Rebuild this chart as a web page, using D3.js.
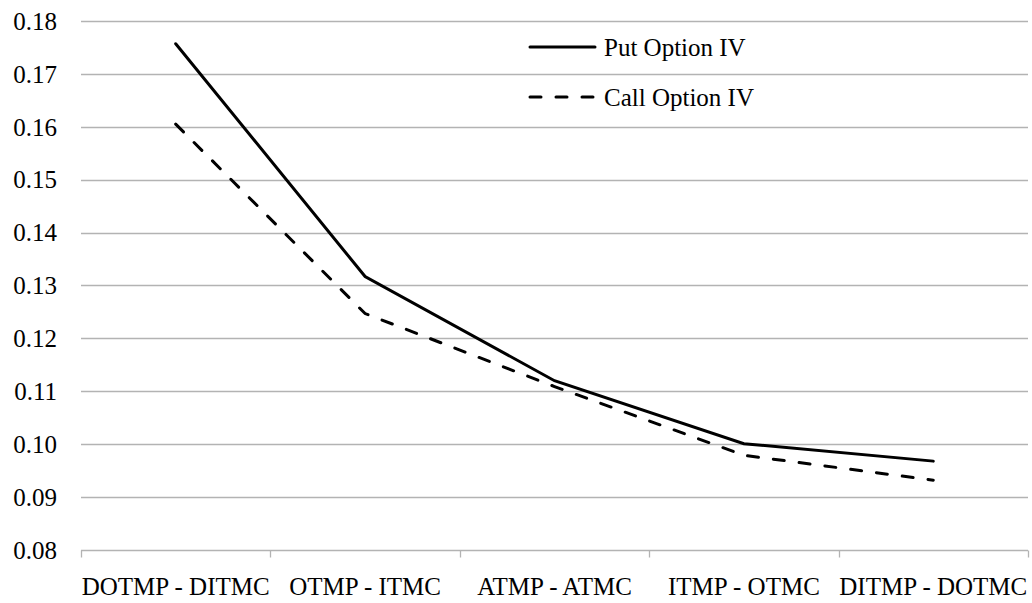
<!DOCTYPE html>
<html>
<head>
<meta charset="utf-8">
<script src="https://cdn.jsdelivr.net/npm/d3@7"></script>
<style>
  body { margin: 0; background: #fff; }
  text { font-family: "Liberation Serif", "Times New Roman", serif; fill: #000; }
</style>
</head>
<body>
<div id="chart"></div>
<script>
var categories = ["DOTMP - DITMC", "OTMP - ITMC", "ATMP - ATMC", "ITMP - OTMC", "DITMP - DOTMC"];
var putIV = [0.1757, 0.1317, 0.1120, 0.1001, 0.0968];
var callIV = [0.1605, 0.1247, 0.1109, 0.0979, 0.0932];
var yTicks = [0.08, 0.09, 0.10, 0.11, 0.12, 0.13, 0.14, 0.15, 0.16, 0.17, 0.18];

var svgWidth = 1032;
var svgHeight = 603;
var margin = { top: 21, right: 4, bottom: 53, left: 81 };
var width = svgWidth - margin.left - margin.right;
var height = svgHeight - margin.top - margin.bottom;
var dashStyle = "11,15";

var svg = d3.select("#chart")
    .append("svg")
    .attr("width", svgWidth)
    .attr("height", svgHeight);

var chartGroup = svg.append("g")
    .attr("transform", `translate(${margin.left}, ${margin.top})`);

var xBand = d3.scaleBand()
    .domain(categories)
    .range([0, width]);

var yLinearScale = d3.scaleLinear()
    .domain([0.08, 0.18])
    .range([height, 0]);

// gridlines
chartGroup.append("g")
    .selectAll("line")
    .data(yTicks.slice(1))
    .enter()
    .append("line")
    .attr("x1", 0)
    .attr("x2", width)
    .attr("y1", d => Math.round(yLinearScale(d)) + 0.5)
    .attr("y2", d => Math.round(yLinearScale(d)) + 0.5)
    .attr("stroke", "#b3b3b3")
    .attr("stroke-width", 1.3);

// y labels
chartGroup.append("g")
    .selectAll("text")
    .data(yTicks)
    .enter()
    .append("text")
    .attr("x", -24)
    .attr("y", d => yLinearScale(d))
    .attr("dy", "0.35em")
    .attr("text-anchor", "end")
    .attr("font-size", "25px")
    .text(d => d3.format(".2f")(d));

// x axis
var xAxis = chartGroup.append("g")
    .attr("transform", `translate(0, ${Math.round(height) + 0.5})`);

xAxis.append("line")
    .attr("x1", 0)
    .attr("x2", width)
    .attr("stroke", "#b3b3b3")
    .attr("stroke-width", 1.3);

var boundaries = categories.map(c => xBand(c)).concat([width]);
xAxis.selectAll("line.tick")
    .data(boundaries)
    .enter()
    .append("line")
    .attr("class", "tick")
    .attr("x1", d => Math.round(d) + 0.5)
    .attr("x2", d => Math.round(d) + 0.5)
    .attr("y1", 0)
    .attr("y2", 7)
    .attr("stroke", "#b3b3b3")
    .attr("stroke-width", 1.3);

xAxis.selectAll("text")
    .data(categories)
    .enter()
    .append("text")
    .attr("x", d => xBand(d) + xBand.bandwidth() / 2)
    .attr("y", 44)
    .attr("text-anchor", "middle")
    .attr("font-size", "25px")
    .text(d => d);

// lines
var line = d3.line()
    .x((d, i) => xBand(categories[i]) + xBand.bandwidth() / 2)
    .y(d => yLinearScale(d));

chartGroup.append("path")
    .datum(callIV)
    .attr("d", line)
    .attr("fill", "none")
    .attr("stroke", "#000")
    .attr("stroke-width", 3)
    .attr("stroke-linecap", "round")
    .attr("stroke-dasharray", dashStyle);

chartGroup.append("path")
    .datum(putIV)
    .attr("d", line)
    .attr("fill", "none")
    .attr("stroke", "#000")
    .attr("stroke-width", 3)
    .attr("stroke-linecap", "round");

// legend
var legend = svg.append("g");
var legendItems = [
    { name: "Put Option IV", dash: null, y: 47 },
    { name: "Call Option IV", dash: dashStyle, y: 97 }
];
legendItems.forEach(function(item) {
    legend.append("line")
        .attr("x1", 530)
        .attr("x2", 595)
        .attr("y1", item.y)
        .attr("y2", item.y)
        .attr("stroke", "#000")
        .attr("stroke-width", 3)
        .attr("stroke-linecap", "round")
        .attr("stroke-dasharray", item.dash);
    legend.append("text")
        .attr("x", 604)
        .attr("y", item.y)
        .attr("dy", "0.35em")
        .attr("font-size", "25px")
        .text(item.name);
});
</script>
</body>
</html>
